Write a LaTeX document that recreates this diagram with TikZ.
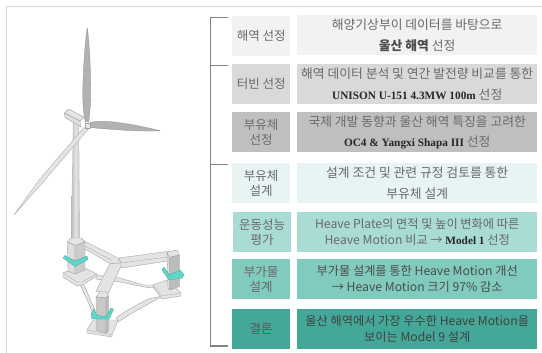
\documentclass[tikz,border=0pt]{standalone}
\usepackage{fontspec}
\setmainfont{Noto Sans CJK KR}
\newfontfamily\latinb{Liberation Serif}
\definecolor{lab}{RGB}{105,105,105}
\definecolor{frm}{RGB}{215,215,215}
\definecolor{brk}{RGB}{130,130,130}
\definecolor{ca}{RGB}{242,242,242}
\definecolor{cb}{RGB}{217,217,217}
\definecolor{cc}{RGB}{191,191,191}
\definecolor{cd}{RGB}{232,244,244}
\definecolor{ce}{RGB}{168,220,212}
\definecolor{cf}{RGB}{128,202,190}
\definecolor{cg}{RGB}{68,168,152}
\definecolor{hp}{RGB}{95,215,200}
\definecolor{blade}{RGB}{178,178,178}
\definecolor{bladed}{RGB}{140,140,140}
\definecolor{pl}{RGB}{228,228,228}
\definecolor{ed}{RGB}{165,165,165}
\definecolor{colL}{RGB}{222,222,222}
\definecolor{colD}{RGB}{188,188,188}
\tikzset{
  x=1pt,y=-1pt,
  lbox/.style={draw=none,inner sep=0pt,minimum width=58pt,minimum height=40pt,anchor=north west,align=center,text=lab,font=\fontsize{12.5}{14.5}\selectfont},
  rbox/.style={draw=none,inner sep=0pt,minimum width=240pt,minimum height=40pt,anchor=north west,align=center,text=lab,font=\fontsize{12.2}{16}\selectfont},
  rboxw/.style={rbox,font=\fontsize{12.8}{20.5}\selectfont},
  brack/.style={draw=brk,line width=1.1pt},
  mem/.style={fill=pl,draw=ed,line width=.4pt,line join=round},
  memd/.style={fill=colD,draw=ed,line width=.4pt,line join=round},
  ring/.style={fill=hp,draw=hp!75!black,line width=.3pt,line join=round},
  bl/.style={fill=blade,draw=bladed,line width=.3pt,line join=round},
}
\newcommand{\bd}[1]{{\latinb\fontsize{11.3}{16}\selectfont\bfseries\color{black!85}#1}}
\newcommand{\kb}[1]{{\bfseries\color{black!70}#1}}
\begin{document}
\begin{tikzpicture}
\useasboundingbox (0,0) rectangle (542,353);
\fill[white] (0,0) rectangle (542,353);
% frame
\draw[frm,line width=1pt] (6,353) -- (6,7) -- (542,7);
% boxes
\node[lbox,fill=ca] (l1) at (232,16) {해역 선정};
\node[lbox,fill=cb] (l2) at (232,64) {터빈 선정};
\node[lbox,fill=cc] (l3) at (232,112) {부유체\\선정};
\node[lbox,fill=cd] (l4) at (232,163) {부유체\\설계};
\node[lbox,fill=ce] (l5) at (233,212) {운동성능\\평가};
\node[lbox,fill=cf] (l6) at (232,259) {부가물\\설계};
\node[lbox,fill=cg,text=black!65] (l7) at (232,309) {결론};
\node[rboxw,fill=ca] (r1) at (297,15) {해양기상부이 데이터를 바탕으로\\\kb{울산 해역} 선정};
\node[rboxw,fill=cb] (r2) at (297,64) {해역 데이터 분석 및 연간 발전량 비교를 통한\\\bd{UNISON U-151 4.3MW 100m} 선정};
\node[rboxw,fill=cc] (r3) at (297,112) {국제 개발 동향과 울산 해역 특징을 고려한\\\bd{OC4 \& Yangxi Shapa III} 선정};
\node[rboxw,fill=cd] (r4) at (297,163) {설계 조건 및 관련 규정 검토를 통한\\부유체 설계};
\node[rbox,fill=ce] (r5) at (297,212) {Heave Plate의 면적 및 높이 변화에 따른\\Heave Motion 비교 → \bd{Model 1} 선정};
\node[rbox,fill=cf,text=black!70] (r6) at (297,259) {부가물 설계를 통한 Heave Motion 개선\\→ Heave Motion 크기 97\% 감소};
\node[rbox,fill=cg,text=black!75] (r7) at (297,309) {울산 해역에서 가장 우수한 Heave Motion을\\보이는 Model 9 설계};
% bracket
\coordinate (b1) at (228,17.5);
\coordinate (b2) at (228,65.5);
\coordinate (b3) at (228,164.5);
\coordinate (b4) at (228,346);
\draw[brack] (b1) -- (210.5,17.5) -- (210.5,346) -- (b4);
\draw[brack] (210.5,65.5) -- (b2);
\draw[brack] (210.5,164.5) -- (b3);
% tower
\shade[left color=black!28,right color=black!25,middle color=black!10] (73,122) -- (79,122) -- (80,240) -- (71,240) -- cycle;
% nacelle
\draw[mem] (64.5,113) -- (68.5,109) -- (84,117) -- (80,121) -- cycle;
\draw[memd,fill=colL] (64.5,113) -- (80,121) -- (81,127) -- (65,117.5) -- cycle;
% blades
\draw[bl] (87.3,27.7) .. controls (84.5,45) and (83,75) .. (82.7,95) .. controls (83,110) and (84.5,120) .. (85.5,122) -- (88.7,122) .. controls (90,112) and (91,100) .. (90.7,90) .. controls (90.5,65) and (89.5,45) .. (87.3,27.7) -- cycle;
\draw[bl] (90,122.5) .. controls (100,119.5) and (125,122) .. (160,130.7) .. controls (145,132) and (110,129.5) .. (90,127.5) -- cycle;
\fill[pl,draw=ed,line width=.3pt,line join=round] (84,127.5) -- (39,180) -- (14,215) -- (45,180) -- (88,129.5) -- cycle;
\draw[mem] (85.5,123) rectangle (90,128.5);
% lower struts
\draw[mem] (96,275) -- (120,278) -- (143,285) -- (155,285) -- (155,288) -- (147,287.5) -- (120,282) -- (96,279) -- cycle;
\draw[mem] (80,284) -- (83,283) -- (95,310) -- (92,311) -- cycle;
\draw[mem] (116,318) .. controls (126,310) and (136,306) .. (148,299) -- (163,296) -- (150,303) .. controls (138,310) and (128,315) .. (118,322) -- cycle;
% plates
\draw[mem] (63,277) -- (63,273) -- (75,268) -- (85,268) -- (97,274) -- (97,276) -- (82,285) -- (77,286) -- cycle;
\draw[ed,line width=.3pt] (63,273) -- (77,282) -- (82,282) -- (97,274);
\draw[mem] (153,285) -- (167,280) -- (181,293) -- (181,296) -- (162,299) -- (153,287) -- cycle;
\draw[ed,line width=.3pt] (153,285) -- (162,296) -- (181,293);
\draw[mem] (87,333) -- (87,330) -- (93,320) -- (118,320) -- (112,335) -- (112,337) -- cycle;
\draw[ed,line width=.3pt] (87,330) -- (112,335);
% arms
\draw[mem] (80,239) -- (118,258) -- (121,263) -- (110,263.5) -- (85,249) -- (78,243) -- cycle;
\draw[ed,line width=.3pt] (83,245) -- (112,260.5);
\draw[mem] (119,258) -- (167,251.5) -- (168,261) -- (121,268) -- (121,263) -- cycle;
\draw[ed,line width=.3pt] (121,263) -- (168,257);
\draw[mem] (110,263.5) -- (121,263) -- (121,266) -- (108,294) -- (96,291) -- cycle;
% columns
\shade[left color=black!28,right color=black!25,middle color=black!10] (72,230) -- (79,230) -- (80,241) -- (71,241) -- cycle;
\draw[mem] (67.5,242) -- (71,238) -- (81,238) -- (85,242) -- (75,245.5) -- cycle;
\draw[memd,fill=colL] (67.5,242) -- (75,245.5) -- (75,274) -- (68,271) -- cycle;
\draw[memd,fill=colL!92!black] (75,245.5) -- (85,242) -- (85,270) -- (75,274) -- cycle;
\draw[mem] (167,252) -- (177,250) -- (179.5,255) -- (169,257.5) -- cycle;
\draw[mem] (167,252) -- (169,257.5) -- (170,290) -- (168,288) -- cycle;
\draw[memd] (169,257.5) -- (179.5,255) -- (179.5,286.5) -- (170,290) -- cycle;
\draw[mem] (96,297) -- (100,291.5) -- (106,291.5) -- (108.5,296) -- (106,298) -- cycle;
\draw[memd,fill=colL!90!black] (96,297) -- (106,298) -- (106,333) -- (96,330) -- cycle;
\draw[memd] (106,298) -- (108.5,296) -- (108.5,331) -- (106,333) -- cycle;
% heave rings
\draw[ring] (63,258) -- (65,255.5) -- (75,261) -- (87,256) -- (88,259.5) -- (75,266.5) -- cycle;
\draw[ring] (162,270) -- (164,267) -- (169.5,275) -- (180,270) -- (184,275) -- (182,278) -- (169,280) -- cycle;
\draw[ring] (91,314) -- (94,309) -- (97,315.5) -- (106,316.5) -- (111,308) -- (113.5,309.5) -- (109,319) -- (92,319) -- cycle;
\end{tikzpicture}
\end{document}
